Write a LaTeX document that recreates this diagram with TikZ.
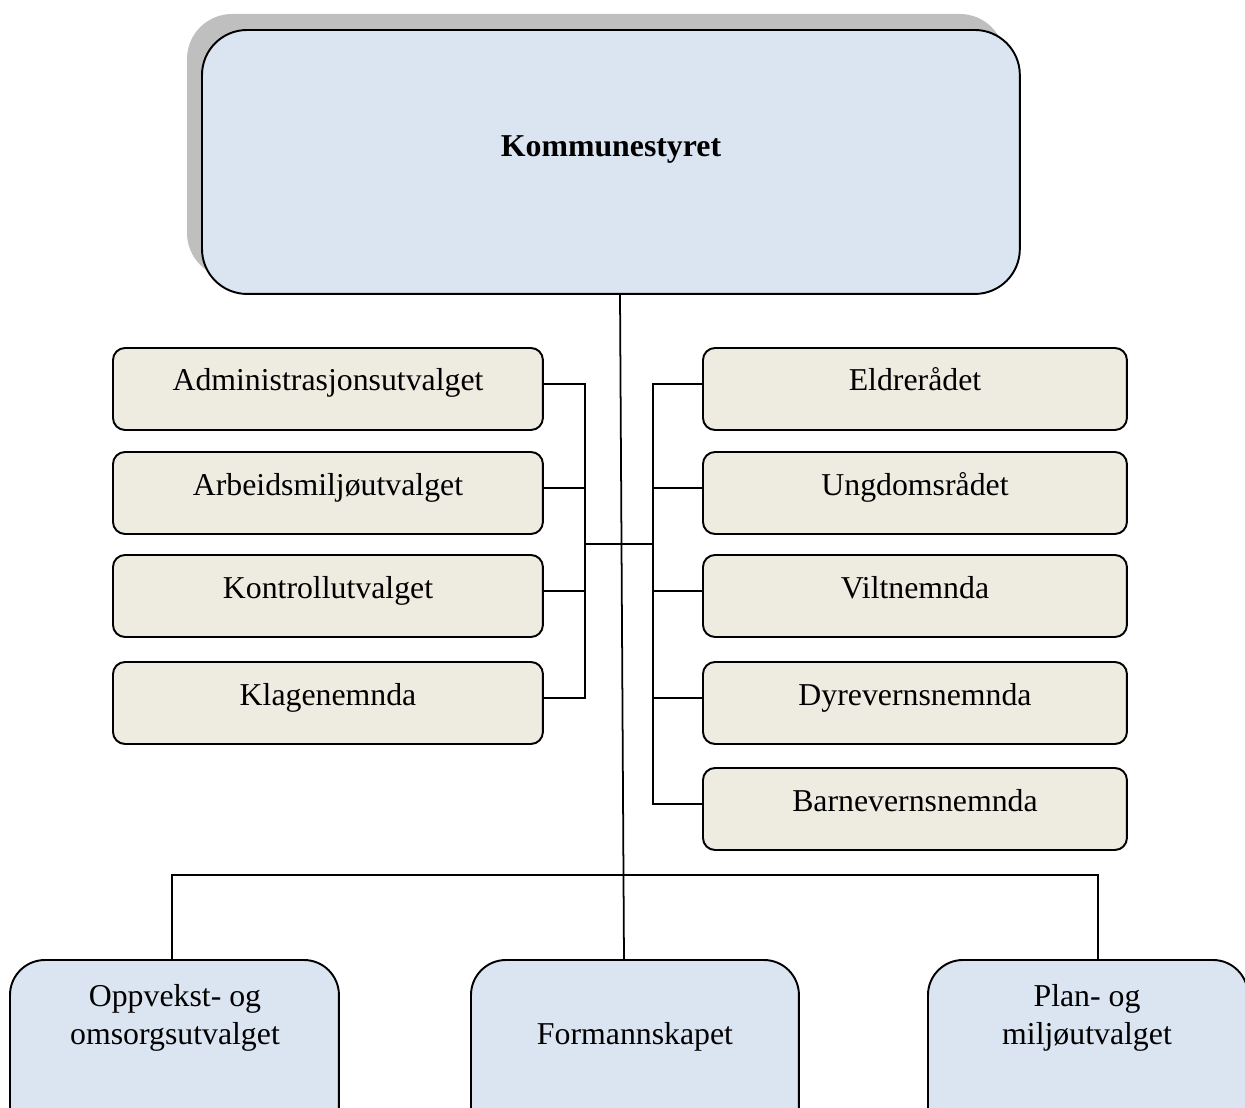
\documentclass[tikz,border=0pt]{standalone}
\usepackage{fontspec}
\setmainfont{Liberation Serif}
\definecolor{topblue}{HTML}{DBE5F1}
\definecolor{beige}{HTML}{EEECE1}
\definecolor{shadowgray}{HTML}{BFBFBF}
\begin{document}
\begin{tikzpicture}[x=0.02cm,y=-0.02cm,
  every node/.style={inner sep=0pt,outer sep=0pt},
  conn/.style={draw=black,line width=1pt},
  bigbox/.style={draw=black,line width=1.1pt,fill=topblue,rounded corners=0.9cm,anchor=north west},
  shadowbox/.style={fill=shadowgray,rounded corners=0.9cm,anchor=north west},
  smallbox/.style={draw=black,line width=1.1pt,fill=beige,rounded corners=0.24cm,anchor=north west,minimum width=8.6cm,minimum height=1.64cm},
  rsmallbox/.style={smallbox,minimum width=8.48cm},
  botbox/.style={draw=black,line width=1.1pt,fill=topblue,rounded corners=0.7cm,anchor=north west,minimum height=4cm},
  txt/.style={anchor=base,font=\fontsize{18.1}{21.6}\selectfont,align=center},
]
\useasboundingbox (0,0) rectangle (1245,1108);
\clip (0,0) rectangle (1245,1108);

% top box
\node[shadowbox,minimum width=16.36cm,minimum height=5.28cm] (shadow) at (187,14) {};
\node[bigbox,minimum width=16.36cm,minimum height=5.28cm] (top) at (202,30) {};
\node[txt,font=\fontsize{18.1}{21.6}\selectfont\bfseries] (topt) at (611,157) {Kommunestyret};

% left boxes
\node[smallbox] (a1) at (113,348) {};
\node[smallbox] (a2) at (113,452) {};
\node[smallbox] (a3) at (113,555) {};
\node[smallbox] (a4) at (113,662) {};
\node[txt] (a1t) at (328,391) {Administrasjonsutvalget};
\node[txt] (a2t) at (328,495) {Arbeidsmiljøutvalget};
\node[txt] (a3t) at (328,598) {Kontrollutvalget};
\node[txt] (a4t) at (328,705) {Klagenemnda};

% right boxes
\node[rsmallbox] (b1) at (703,348) {};
\node[rsmallbox] (b2) at (703,452) {};
\node[rsmallbox] (b3) at (703,555) {};
\node[rsmallbox] (b4) at (703,662) {};
\node[rsmallbox] (b5) at (703,768) {};
\node[txt] (b1t) at (915,391) {Eldrerådet};
\node[txt] (b2t) at (915,495) {Ungdomsrådet};
\node[txt] (b3t) at (915,598) {Viltnemnda};
\node[txt] (b4t) at (915,705) {Dyrevernsnemnda};
\node[txt] (b5t) at (915,811) {Barnevernsnemnda};

% bottom boxes
\node[botbox,minimum width=6.58cm] (c1) at (10,960) {};
\node[botbox,minimum width=6.56cm] (c2) at (471,960) {};
\node[botbox,minimum width=6.4cm] (c3) at (928,960) {};
\node[txt] (c1t) at (175,1044) {Oppvekst- og\\omsorgsutvalget};
\node[txt] (c2t) at (635,1044) {Formannskapet};
\node[txt] (c3t) at (1087,1044) {Plan- og\\miljøutvalget};

% coordinates
\coordinate (lbus) at (585,544);
\coordinate (rbus) at (653,544);
\coordinate (ctop) at (620,294);
\coordinate (cbot) at (624,960);
\coordinate (hl) at (172,875);
\coordinate (hr) at (1098,875);

% left bus
\draw[conn] ([yshift=0.1cm]a1.east) -- ([yshift=0.1cm]a1.east -| lbus) -- ([yshift=0.1cm]a4.east -| lbus) -- ([yshift=0.1cm]a4.east);
\draw[conn] ([yshift=0.1cm]a2.east) -- ([yshift=0.1cm]a2.east -| lbus);
\draw[conn] ([yshift=0.1cm]a3.east) -- ([yshift=0.1cm]a3.east -| lbus);
% right bus
\draw[conn] ([yshift=0.1cm]b1.west) -- ([yshift=0.1cm]b1.west -| rbus) -- ([yshift=0.1cm]b5.west -| rbus) -- ([yshift=0.1cm]b5.west);
\draw[conn] ([yshift=0.1cm]b2.west) -- ([yshift=0.1cm]b2.west -| rbus);
\draw[conn] ([yshift=0.1cm]b3.west) -- ([yshift=0.1cm]b3.west -| rbus);
\draw[conn] ([yshift=0.1cm]b4.west) -- ([yshift=0.1cm]b4.west -| rbus);
% cross link
\draw[conn] (lbus) -- (rbus);
% central line
\draw[conn] (ctop) -- (cbot);
% bottom distribution
\draw[conn] (c1.north -| hl) -- (hl) -- (hr) -- (c3.north -| hr);
\end{tikzpicture}
\end{document}
